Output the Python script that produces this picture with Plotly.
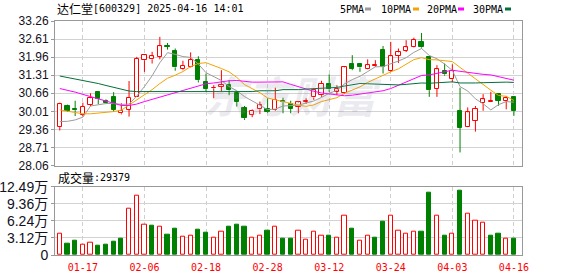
import plotly.graph_objects as go

# ---------------- data ----------------
dates = ["01-14", "01-15", "01-16", "01-17", "01-20", "01-21", "01-22", "01-23", "01-24", "01-27",
         "02-05", "02-06", "02-07", "02-10", "02-11", "02-12", "02-13", "02-14", "02-17", "02-18",
         "02-19", "02-20", "02-21", "02-24", "02-25", "02-26", "02-27", "02-28", "03-03", "03-04",
         "03-05", "03-06", "03-07", "03-10", "03-11", "03-12", "03-13", "03-14", "03-17", "03-18",
         "03-19", "03-20", "03-21", "03-24", "03-25", "03-26", "03-27", "03-28", "03-31", "04-01",
         "04-02", "04-03", "04-07", "04-08", "04-09", "04-10", "04-11", "04-14", "04-15", "04-16"]
tick_labels = ["01-17", "02-06", "02-18", "02-28", "03-12", "03-24", "04-03", "04-16"]

open_ = [29.44, 30.20, 30.08, 29.88, 30.24, 30.70, 30.39, 30.51, 29.94, 30.06,
         30.53, 31.85, 31.88, 31.97, 32.37, 32.17, 31.52, 31.61, 31.85, 31.05,
         30.84, 30.89, 30.94, 30.68, 30.14, 29.88, 30.08, 30.08, 30.06, 30.38,
         30.27, 30.18, 30.36, 30.51, 30.59, 30.99, 30.71, 30.66, 31.71, 31.71,
         31.53, 31.64, 32.21, 31.47, 32.01, 32.19, 32.33, 32.50, 31.95, 30.83,
         31.47, 31.16, 30.02, 29.46, 29.67, 30.30, 30.33, 30.62, 30.39, 30.51]
high = [30.32, 30.25, 30.39, 30.32, 30.66, 30.70, 30.44, 30.70, 30.30, 31.10,
        31.97, 32.05, 32.15, 32.69, 32.47, 32.27, 31.83, 32.13, 31.99, 31.37,
        30.95, 31.49, 31.13, 30.71, 30.20, 30.08, 30.36, 30.48, 30.86, 30.50,
        30.39, 30.36, 30.48, 30.83, 31.11, 31.34, 30.95, 31.64, 32.03, 31.75,
        31.88, 31.85, 32.36, 32.51, 32.27, 32.57, 32.66, 32.83, 31.95, 31.67,
        31.73, 31.70, 30.86, 30.15, 30.20, 30.63, 30.71, 30.62, 30.56, 30.53]
low = [29.32, 29.99, 29.84, 29.82, 30.20, 30.27, 30.27, 30.00, 29.90, 29.82,
       30.53, 31.43, 31.73, 31.88, 32.23, 31.47, 31.49, 31.59, 31.05, 30.71,
       30.48, 30.71, 30.59, 30.18, 29.70, 29.80, 29.91, 29.96, 30.03, 29.94,
       29.94, 29.94, 30.27, 30.42, 30.53, 30.71, 30.59, 30.63, 31.49, 31.43,
       31.52, 31.61, 31.37, 31.43, 31.75, 32.14, 32.31, 32.27, 30.53, 30.53,
       31.29, 31.05, 28.53, 29.44, 29.28, 30.03, 30.33, 30.21, 30.08, 29.85]
close = [30.27, 30.02, 30.05, 30.18, 30.48, 30.45, 30.30, 30.06, 30.02, 30.50,
         31.91, 32.03, 31.99, 32.35, 32.34, 31.59, 31.64, 31.85, 31.13, 30.81,
         30.86, 30.95, 30.77, 30.36, 29.76, 30.02, 30.24, 29.99, 30.42, 30.34,
         30.09, 30.33, 30.39, 30.77, 30.99, 30.80, 30.83, 31.59, 31.53, 31.59,
         31.67, 31.68, 31.61, 31.99, 32.13, 32.31, 32.59, 32.31, 30.77, 31.52,
         31.34, 31.47, 29.42, 29.97, 30.09, 30.44, 30.38, 30.39, 30.48, 30.03]

ma5 = [29.64, 29.65, 29.70, 29.80, 30.20, 30.24, 30.29, 30.29, 30.26, 30.27,
       30.56, 30.90, 31.29, 31.76, 32.12, 32.06, 31.98, 31.95, 31.71, 31.40,
       31.26, 31.12, 30.90, 30.75, 30.54, 30.37, 30.23, 30.07, 30.09, 30.20,
       30.22, 30.23, 30.31, 30.38, 30.51, 30.66, 30.76, 31.00, 31.15, 31.27,
       31.44, 31.61, 31.62, 31.71, 31.82, 31.94, 32.13, 32.27, 32.02, 31.90,
       31.71, 31.48, 30.90, 30.74, 30.46, 30.28, 30.06, 30.25, 30.36, 30.34]
ma10 = [30.06, 30.01, 29.96, 29.92, 29.92, 29.94, 29.97, 30.00, 30.05, 30.23,
        30.40, 30.60, 30.79, 31.01, 31.20, 31.31, 31.44, 31.62, 31.73, 31.76,
        31.66, 31.55, 31.43, 31.23, 30.97, 30.82, 30.68, 30.49, 30.42, 30.37,
        30.29, 30.23, 30.19, 30.24, 30.36, 30.44, 30.50, 30.66, 30.77, 30.89,
        31.05, 31.18, 31.31, 31.43, 31.54, 31.69, 31.87, 31.94, 31.87, 31.86,
        31.83, 31.80, 31.59, 31.38, 31.18, 30.99, 30.77, 30.58, 30.55, 30.40]
ma20 = [30.83, 30.77, 30.70, 30.62, 30.54, 30.45, 30.36, 30.28, 30.22, 30.22,
        30.27, 30.36, 30.44, 30.52, 30.60, 30.68, 30.75, 30.83, 30.92, 31.00,
        31.03, 31.07, 31.11, 31.12, 31.08, 31.06, 31.06, 31.06, 31.08, 31.07,
        30.98, 30.89, 30.81, 30.73, 30.67, 30.63, 30.59, 30.57, 30.59, 30.63,
        30.67, 30.71, 30.75, 30.83, 30.95, 31.06, 31.18, 31.30, 31.32, 31.37,
        31.44, 31.49, 31.45, 31.41, 31.36, 31.34, 31.32, 31.26, 31.21, 31.13]
ma30 = [31.28, 31.23, 31.18, 31.13, 31.07, 31.01, 30.94, 30.87, 30.80, 30.74,
        30.72, 30.72, 30.72, 30.72, 30.72, 30.72, 30.72, 30.72, 30.72, 30.72,
        30.72, 30.72, 30.72, 30.72, 30.72, 30.72, 30.75, 30.75, 30.75, 30.79,
        30.78, 30.79, 30.81, 30.82, 30.84, 30.85, 30.87, 30.92, 30.97, 31.01,
        31.00, 30.99, 30.98, 30.96, 30.96, 30.98, 31.01, 31.03, 31.02, 31.04,
        31.06, 31.07, 31.03, 31.02, 31.03, 31.04, 31.05, 31.06, 31.06, 31.05]

volume = [38400, 20100, 25600, 19500, 23200, 16500, 18300, 23800, 29300, 85400,
          107900, 56100, 53000, 52400, 36600, 47600, 34200, 34500, 45700, 40800,
          32300, 42100, 51200, 54900, 51200, 32300, 36000, 43900, 51200, 29300,
          29300, 43900, 27400, 42100, 36000, 34700, 31100, 72600, 47600, 25600,
          34700, 31100, 60400, 72600, 45100, 39700, 43300, 42100, 113400, 72600,
          36000, 39700, 117100, 76200, 63400, 59800, 36000, 38400, 30500, 29379]
vol_up = [1, 0, 0, 1, 1, 0, 0, 0, 0, 1,
          1, 1, 0, 1, 0, 0, 1, 1, 0, 0,
          1, 1, 0, 0, 0, 1, 1, 0, 1, 0,
          0, 1, 1, 1, 1, 0, 1, 1, 0, 1,
          1, 0, 0, 1, 1, 1, 1, 0, 0, 1,
          0, 1, 0, 1, 1, 1, 0, 0, 1, 0]

price_ticks = ["28.06", "28.71", "29.36", "30.01", "30.66", "31.31", "31.96", "32.61", "33.26"]
vol_tick_vals = [0, 31200, 62400, 93600, 124900]
vol_tick_text = ["0", "3.12万", "6.24万", "9.36万", "12.49万"]

title_name = "达仁堂"
title_rest = "[600329] 2025-04-16 14:01"
vol_label = "成交量"
ma_names = ["5PMA", "10PMA", "20PMA", "30PMA"]
ma_colors = ["#9b9b9b", "#f5a300", "#ff00ff", "#00703a"]

RED = "#ff0000"
GREEN = "#008000"

# ---------------- layout helpers ----------------
W, H = 578, 276
ML, MR, MT, MB = 55, 56, 21, 21
PW, PH = W - ML - MR, H - MT - MB


def px(xp):
    return (xp - ML) / PW


def py(yp):
    return (H - MB - yp) / PH


x = list(range(len(dates)))
tick_idx = [dates.index(t) for t in tick_labels]

fig = go.Figure()

# wicks
for up_flag, col in ((True, RED), (False, GREEN)):
    wx, wy = [], []
    for i in x:
        is_up = close[i] >= open_[i]
        if is_up != up_flag:
            continue
        top = max(open_[i], close[i])
        bot = min(open_[i], close[i])
        wx += [i, i, None, i, i, None]
        wy += [high[i], top, None, bot, low[i], None]
    fig.add_trace(go.Scatter(x=wx, y=wy, mode="lines", line=dict(color=col, width=1),
                             xaxis="x2", yaxis="y", hoverinfo="skip", showlegend=False))

# candle bodies
up_i = [i for i in x if close[i] >= open_[i]]
dn_i = [i for i in x if close[i] < open_[i]]
fig.add_trace(go.Bar(x=up_i, base=[open_[i] for i in up_i],
                     y=[max(close[i] - open_[i], 0.015) for i in up_i],
                     width=0.55, marker=dict(color="white", line=dict(color=RED, width=1)),
                     xaxis="x2", yaxis="y", showlegend=False))
fig.add_trace(go.Bar(x=dn_i, base=[close[i] for i in dn_i],
                     y=[max(open_[i] - close[i], 0.015) for i in dn_i],
                     width=0.55, marker=dict(color=GREEN, line=dict(color=GREEN, width=1)),
                     xaxis="x2", yaxis="y", showlegend=False))

# moving averages
for name, vals, col in zip(ma_names, [ma5, ma10, ma20, ma30], ma_colors):
    fig.add_trace(go.Scatter(x=x, y=vals, mode="lines", name=name,
                             line=dict(color=col, width=1), xaxis="x2", yaxis="y",
                             showlegend=False))

# volume
vu = [i for i in x if vol_up[i]]
vd = [i for i in x if not vol_up[i]]
fig.add_trace(go.Bar(x=vu, y=[volume[i] for i in vu], width=0.55,
                     marker=dict(color="white", line=dict(color=RED, width=1)),
                     xaxis="x", yaxis="y2", showlegend=False))
fig.add_trace(go.Bar(x=vd, y=[volume[i] for i in vd], width=0.55,
                     marker=dict(color=GREEN, line=dict(color=GREEN, width=1)),
                     xaxis="x", yaxis="y2", showlegend=False))

xr = [-0.62, 60.05]
main_bottom = py(165.5)
vol_top = py(186.7)

mono = "DejaVu Sans Mono, Noto Sans CJK SC"
cjk = "Noto Sans CJK SC"
sans = "Liberation Sans, Arial, Noto Sans CJK SC"

fig.update_layout(
    width=W, height=H,
    margin=dict(l=ML, r=MR, t=MT, b=MB, autoexpand=False),
    paper_bgcolor="white", plot_bgcolor="white",
    barmode="overlay", bargap=0,
    showlegend=False,
    xaxis=dict(domain=[0, 1], anchor="y2", range=xr, tickmode="array",
               tickvals=tick_idx, ticktext=tick_labels,
               tickfont=dict(family=mono, size=10, color=RED),
               ticks="outside", ticklen=3, tickcolor="rgba(0,0,0,0)",
               showgrid=True, gridcolor="#cfcfcf", griddash="4px,3px", gridwidth=1,
               showline=True, linecolor="#999999", linewidth=1, mirror=True,
               zeroline=False, automargin=False),
    xaxis2=dict(domain=[0, 1], anchor="y", range=xr, matches="x", tickmode="array",
                tickvals=tick_idx, showticklabels=False, ticks="",
                showgrid=True, gridcolor="#cfcfcf", griddash="4px,3px", gridwidth=1,
                showline=True, linecolor="#999999", linewidth=1, mirror=True,
                zeroline=False, automargin=False),
    yaxis=dict(domain=[main_bottom, 1], anchor="x2", range=[28.06, 33.26],
               tickmode="array", tickvals=[float(t) for t in price_ticks], ticktext=price_ticks,
               tickfont=dict(family=sans, size=12, color="#111122"),
               ticks="outside", ticklen=3, tickcolor="#999999",
               showgrid=True, gridcolor="#d2d2d2", gridwidth=1,
               showline=True, linecolor="#999999", linewidth=1, mirror=True,
               zeroline=False, automargin=False),
    yaxis2=dict(domain=[0, vol_top], anchor="x", range=[0, 124900],
                tickmode="array", tickvals=vol_tick_vals, ticktext=vol_tick_text,
                tickfont=dict(family=sans, size=14, color="#111122"),
                ticks="outside", ticklen=3, tickcolor="#999999",
                showgrid=True, gridcolor="#d2d2d2", gridwidth=1,
                showline=True, linecolor="#999999", linewidth=1, mirror=True,
                zeroline=False, automargin=False),
)

annotations = []
# title (CJK part and code/time part)
annotations.append(dict(xref="paper", yref="paper", x=px(56), y=py(9),
                        xanchor="left", yanchor="middle", showarrow=False, borderpad=0,
                        text=title_name, font=dict(family=cjk, size=12, color="black")))
annotations.append(dict(xref="paper", yref="paper", x=px(91.5), y=py(9),
                        xanchor="left", yanchor="middle", showarrow=False, borderpad=0,
                        text=title_rest, font=dict(family=mono, size=10, color="black")))
# legend texts
leg_x = [338.5, 379.5, 425.5, 471.5]
sq_x = [365, 413, 458, 505]
for name, lx in zip(ma_names, leg_x):
    annotations.append(dict(xref="paper", yref="paper", x=px(lx), y=py(9.5),
                            xanchor="left", yanchor="middle", showarrow=False, borderpad=0,
                            text=name, font=dict(family=mono, size=10, color="black")))
# volume label
annotations.append(dict(xref="paper", yref="paper", x=px(57), y=py(177),
                        xanchor="left", yanchor="middle", showarrow=False, borderpad=0,
                        text=vol_label, font=dict(family=cjk, size=12, color="black")))
annotations.append(dict(xref="paper", yref="paper", x=px(92.5), y=py(177),
                        xanchor="left", yanchor="middle", showarrow=False, borderpad=0,
                        text=":" + str(volume[-1]), font=dict(family=mono, size=10, color="black")))
# watermark
annotations.append(dict(xref="paper", yref="paper", x=px(293), y=py(94),
                        xanchor="center", yanchor="middle", showarrow=False,
                        text="<b><i>东方财富</i></b>",
                        font=dict(family=cjk, size=43, color="rgba(150,150,170,0.2)")))
fig.update_layout(annotations=annotations)

shapes = []
for sx, col in zip(sq_x, ma_colors):
    shapes.append(dict(type="rect", xref="paper", yref="paper",
                       x0=px(sx), x1=px(sx + 6), y0=py(10.5), y1=py(7.5),
                       fillcolor=col, line=dict(width=0)))
fig.update_layout(shapes=shapes)

fig.write_html("out.html")
